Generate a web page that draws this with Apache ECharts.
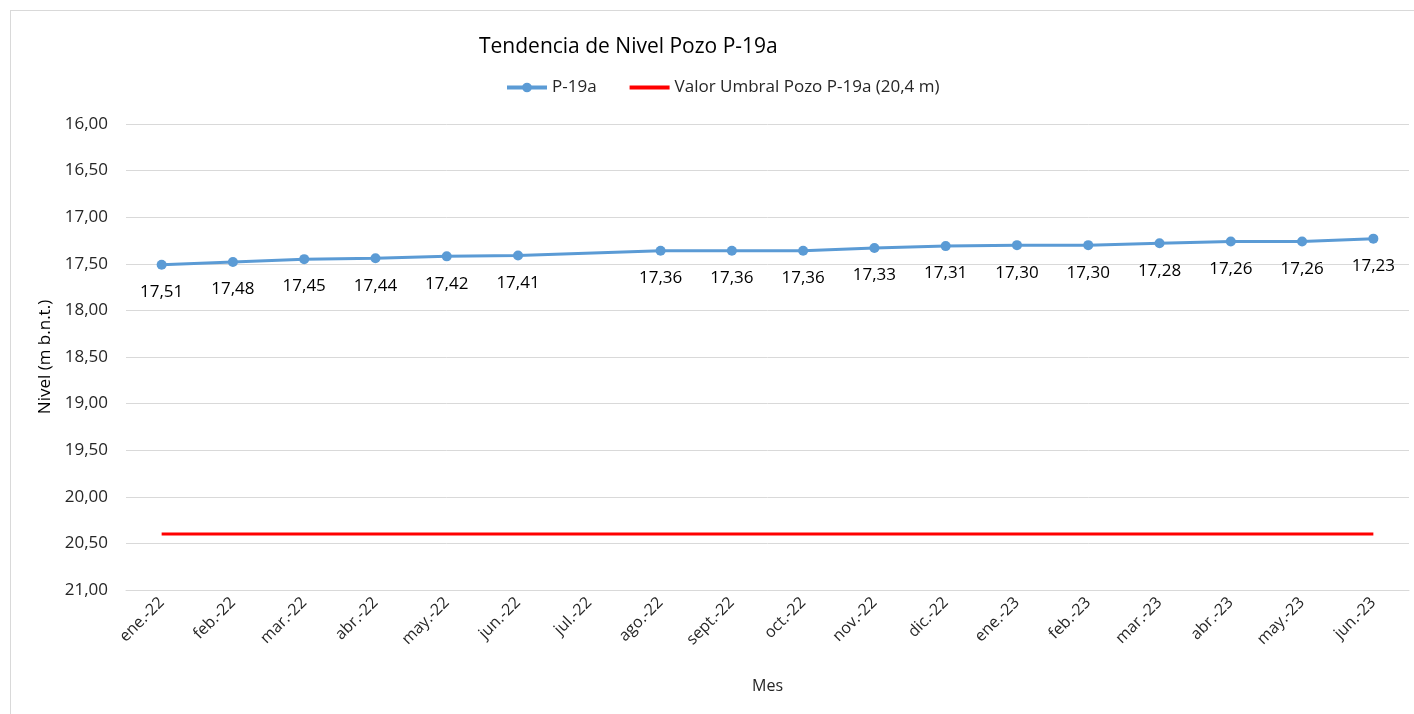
<!DOCTYPE html>
<html>
<head>
<meta charset="utf-8">
<script src="https://cdn.jsdelivr.net/npm/echarts@6/dist/echarts.min.js"></script>
<style>
  body { margin: 0; background: #fff; }
  #frame { position: absolute; left: 10px; top: 10px; width: 1420px; height: 720px; border: 1px solid #d9d9d9; }
  #chart { position: absolute; left: 0; top: 0; width: 1414px; height: 714px; }
</style>
</head>
<body>
<div id="frame"></div>
<div id="chart"></div>
<script>
const months = ["ene.-22", "feb.-22", "mar.-22", "abr.-22", "may.-22", "jun.-22", "jul.-22", "ago.-22", "sept.-22",
    "oct.-22", "nov.-22", "dic.-22", "ene.-23", "feb.-23", "mar.-23", "abr.-23", "may.-23", "jun.-23"];
const nivel = [17.51, 17.48, 17.45, 17.44, 17.42, 17.41, null, 17.36, 17.36, 17.36, 17.33, 17.31, 17.30, 17.30,
    17.28, 17.26, 17.26, 17.23];
const umbral = [20.4, 20.4, 20.4, 20.4, 20.4, 20.4, 20.4, 20.4, 20.4, 20.4, 20.4, 20.4, 20.4, 20.4, 20.4, 20.4, 20.4, 20.4];

const fmt = v => Number(v).toFixed(2).replace('.', ',');
const font = "'Open Sans', 'Liberation Sans', sans-serif";

const chart = echarts.init(document.getElementById("chart"));
chart.setOption({
    textStyle: { fontFamily: font },
    title: {
        text: "Tendencia de Nivel Pozo P-19a",
        left: 474, top: 32,
        textStyle: { fontSize: 21, fontWeight: "normal", color: "#000", fontFamily: font }
    },
    legend: {
        top: 74, left: 500,
        itemWidth: 40, itemHeight: 12, itemGap: 31,
        textStyle: { fontSize: 17, color: "#262626", fontFamily: font },
        data: [
            { name: "P-19a", lineStyle: { width: 4 } },
            { name: "Valor Umbral Pozo P-19a (20,4 m)", itemStyle: { opacity: 0 }, lineStyle: { width: 4 } }
        ]
    },
    grid: { left: 126, right: 5, top: 124, bottom: 124 },
    xAxis: {
        type: "category",
        data: months,
        name: "Mes",
        nameLocation: "middle",
        nameGap: 88,
        nameTextStyle: { fontSize: 16, color: "#262626" },
        axisLine: { lineStyle: { color: "#d9d9d9" } },
        axisTick: { lineStyle: { color: "#d9d9d9" }, length: 6 },
        axisLabel: { rotate: 45, fontSize: 16, color: "#262626", margin: 10, interval: 0 }
    },
    yAxis: {
        type: "value",
        inverse: true,
        min: 16, max: 21, interval: 0.5,
        name: "Nivel (m b.n.t.)",
        nameLocation: "middle",
        nameGap: 70,
        nameTextStyle: { fontSize: 17, color: "#000" },
        axisLine: { show: false },
        axisTick: { show: false },
        axisLabel: { formatter: fmt, fontSize: 17, color: "#262626", margin: 18 },
        splitLine: { lineStyle: { color: "#d9d9d9" } }
    },
    series: [
        {
            name: "P-19a",
            type: "line",
            data: nivel,
            connectNulls: true,
            symbol: "circle",
            symbolSize: 10,
            lineStyle: { color: "#5b9bd5", width: 3 },
            itemStyle: { color: "#5b9bd5" },
            label: {
                show: true, position: "bottom", distance: 14,
                formatter: p => fmt(p.value),
                fontSize: 17, color: "#000"
            }
        },
        {
            name: "Valor Umbral Pozo P-19a (20,4 m)",
            type: "line",
            data: umbral,
            symbol: "none",
            lineStyle: { color: "#ff0000", width: 3 },
            itemStyle: { color: "#ff0000" }
        }
    ]
});
</script>
</body>
</html>
